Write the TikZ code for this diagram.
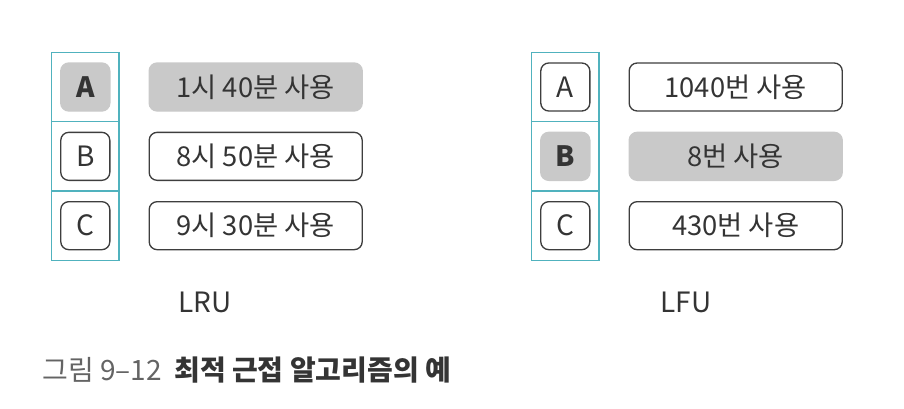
\documentclass[tikz,border=0pt]{standalone}
\usepackage{fontspec}
\setmainfont{Noto Sans CJK KR}
\usepackage{tikz}
\usetikzlibrary{positioning}
\definecolor{slotline}{RGB}{80,178,190}
\definecolor{usedgray}{RGB}{201,201,201}
\definecolor{boxline}{RGB}{62,62,62}
\definecolor{inktext}{RGB}{52,52,52}
\definecolor{capgray}{RGB}{100,100,100}
\tikzset{
	x=0.75pt, y=-0.75pt, % one unit is one pixel of the figure, y runs down
	slot/.style={minimum width=50.6pt, minimum height=52pt, inner sep=0pt, outer sep=0pt}, % one cell of the page column
	column/.style={draw=slotline, line width=1.1pt}, % lines of the page column
	page/.style={draw=boxline, line width=1pt, rounded corners=6pt, minimum width=36.8pt, minimum height=36pt, inner sep=0pt, text=inktext, font=\fontsize{21}{21}\selectfont}, % page letter
	usage/.style={page, minimum width=159.8pt, font=\fontsize{20.5}{20.5}\selectfont}, % time or count of use
	victim/.style={fill=usedgray, draw=usedgray}, % the page that is replaced
	algo/.style={text=inktext, font=\fontsize{21}{21}\selectfont, anchor=base}, % name under the column
}
\begin{document}
\begin{tikzpicture}
    \useasboundingbox (0,0) rectangle (904,408);
    % LRU column
    \node[slot] (l1) at (85.3,87) {};
    \node[slot, below=0pt of l1] (l2) {};
    \node[slot, below=0pt of l2] (l3) {};
    \draw[column] (l1.north west) rectangle (l3.south east);
    \draw[column] (l1.south west) -- (l1.south east);
    \draw[column] (l2.south west) -- (l2.south east);
    \node[page, victim, font=\fontsize{21}{21}\selectfont\bfseries] (lA) at (l1) {A};
    \node[page] (lB) at (l2) {B};
    \node[page] (lC) at (l3) {C};
    \node[usage, victim, right=28.5pt of lA] (lAu) {1시 40분 사용};
    \node[usage, right=28.5pt of lB] (lBu) {8시 50분 사용};
    \node[usage, right=28.5pt of lC] (lCu) {9시 30분 사용};
    \node[algo] (lru) at (205,312) {LRU};

    % LFU column
    \node[slot] (f1) at (565.3,87) {};
    \node[slot, below=0pt of f1] (f2) {};
    \node[slot, below=0pt of f2] (f3) {};
    \draw[column] (f1.north west) rectangle (f3.south east);
    \draw[column] (f1.south west) -- (f1.south east);
    \draw[column] (f2.south west) -- (f2.south east);
    \node[page] (fA) at (f1) {A};
    \node[page, victim, font=\fontsize{21}{21}\selectfont\bfseries] (fB) at (f2) {B};
    \node[page] (fC) at (f3) {C};
    \node[usage, right=28.5pt of fA] (fAu) {1040번 사용};
    \node[usage, victim, right=28.5pt of fB] (fBu) {8번 사용};
    \node[usage, right=28.5pt of fC] (fCu) {430번 사용};
    \node[algo] (lfu) at (686,312) {LFU};

    % caption
    \node[anchor=west, inner sep=0pt, font=\fontsize{21}{21}\selectfont] (cap) at (42,370)
        {\textcolor{capgray}{그림 9–12}\hspace{0.45em}\textcolor{inktext}{\bfseries 최적 근접 알고리즘의 예}};
\end{tikzpicture}
\end{document}
